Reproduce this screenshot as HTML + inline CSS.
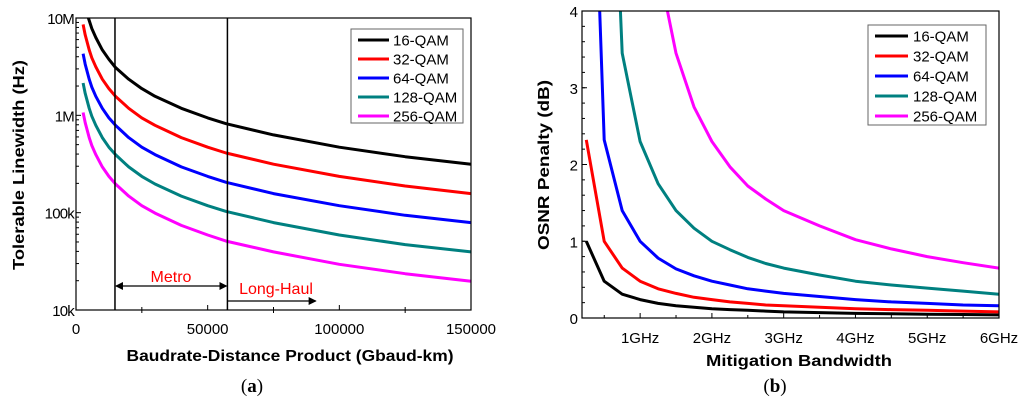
<!DOCTYPE html>
<html><head><meta charset="utf-8">
<style>
html,body{margin:0;padding:0;background:#fff;}
svg{display:block;font-family:"Liberation Sans",Arial,sans-serif;}
</style></head>
<body>
<svg id="fig" width="1024" height="406" viewBox="0 0 1024 406" xmlns="http://www.w3.org/2000/svg">
<defs>
<clipPath id="clipB"><rect x="582" y="11" width="417" height="307"/></clipPath>
<marker id="arr" markerWidth="8" markerHeight="8" refX="7" refY="4" orient="auto" markerUnits="userSpaceOnUse"><path d="M0,0 L8,4 L0,8 Z" fill="#000"/></marker>
<marker id="arrS" markerWidth="8" markerHeight="8" refX="1" refY="4" orient="auto" markerUnits="userSpaceOnUse"><path d="M8,0 L0,4 L8,8 Z" fill="#000"/></marker>
</defs>
<g id="chartA"></g>
<g id="chartB"></g>
</svg>
<script>
// ---- Chart (a) data ----
const seriesNames = ["16-QAM","32-QAM","64-QAM","128-QAM","256-QAM"];
const seriesColors = ["#000000","#ff0000","#0000ff","#008080","#ff00ff"];
const aX16 = [4700,6000,7500,10000,12500,15000,20000,25000,30000,40000,50000,57000,75000,100000,125000,150000];
const aY16 = [10000000,7800000,6300000,4700000,3760000,3100000,2350000,1880000,1570000,1180000,940000,820000,630000,470000,376000,315000];
const aX = [2700,3500,5000,6000,7500,10000,12500,15000,20000,25000,30000,40000,50000,57000,75000,100000,125000,150000];
const aY32 = [8600000,6700000,4700000,3900000,3150000,2350000,1880000,1570000,1180000,940000,790000,590000,470000,410000,315000,236000,188000,157000];
const aY64 = [4300000,3350000,2350000,1950000,1570000,1180000,940000,790000,590000,470000,395000,295000,236000,205000,157000,118000,94000,79000];
const aY128 = [2150000,1680000,1180000,980000,790000,590000,470000,395000,295000,236000,197000,148000,118000,103000,79000,59000,47000,39500];
const aY256 = [1070000,840000,590000,490000,395000,295000,236000,197000,148000,118000,99000,74000,59000,51000,39500,29500,23600,19700];
const aXTicks = [0,50000,100000,150000];
const aYTicks = [10000,100000,1000000,10000000];
const aYTickLabels = ["10k","100k","1M","10M"];
const regionBounds = [14800,57500];

// ---- Chart (b) data ----
const bX = [0.25,0.5,0.75,1,1.25,1.5,1.75,2,2.25,2.5,2.75,3,3.5,4,4.5,5,5.5,6];
const bY16 = [1.0,0.48,0.31,0.24,0.19,0.16,0.14,0.12,0.11,0.10,0.09,0.08,0.07,0.06,0.055,0.05,0.045,0.04];
const bY32 = [2.32,1.0,0.65,0.48,0.38,0.32,0.27,0.24,0.21,0.19,0.17,0.16,0.14,0.12,0.11,0.10,0.09,0.08];
const bY64 = [9,2.32,1.4,1.0,0.78,0.64,0.55,0.48,0.43,0.38,0.35,0.32,0.28,0.24,0.21,0.19,0.17,0.16];
const bY128 = [18,9,3.45,2.3,1.75,1.4,1.17,1.0,0.89,0.79,0.71,0.65,0.56,0.48,0.43,0.39,0.35,0.31];
const bY256 = [36,18,9,6,4.6,3.45,2.75,2.3,1.97,1.72,1.55,1.4,1.2,1.02,0.9,0.8,0.72,0.65];
const bXTicks = [1,2,3,4,5,6];
const bXTickLabels = ["1GHz","2GHz","3GHz","4GHz","5GHz","6GHz"];
const bYTicks = [0,1,2,3,4];

const NS = "http://www.w3.org/2000/svg";
function mk(parent, tag, attrs, text){
  const e = document.createElementNS(NS, tag);
  for (const k in attrs) e.setAttribute(k, attrs[k]);
  if (text !== undefined) e.textContent = text;
  parent.appendChild(e);
  return e;
}

// ===== Chart A =====
(function(){
  const g = document.getElementById('chartA');
  const L=76,R=471,T=18,B=310;
  const xs = v => L + (v-0)/(150000-0)*(R-L);
  const ys = v => B - (Math.log10(v)-4)/3*(B-T);
  const aSeries = [[aX16,aY16],[aX,aY32],[aX,aY64],[aX,aY128],[aX,aY256]];
  aSeries.forEach((s,i)=>{
    const d = s[0].map((x,j)=>(j?'L':'M')+xs(x).toFixed(1)+','+ys(s[1][j]).toFixed(1)).join(' ');
    const p = mk(g,'path',{d:d,fill:'none',stroke:seriesColors[i],'stroke-width':3,'stroke-linejoin':'round'});
    
    
  });
  const f = mk(g,'rect',{x:L,y:T,width:R-L,height:B-T,fill:'none',stroke:'#000','stroke-width':1.2});
  
  
  regionBounds.forEach((v,i)=>{
    const l = mk(g,'line',{x1:xs(v),x2:xs(v),y1:T,y2:B,stroke:'#000','stroke-width':1.5});
    
    
  });
  const ma = mk(g,'line',{x1:xs(regionBounds[0])+1,x2:xs(regionBounds[1])-1,y1:286,y2:286,stroke:'#000','stroke-width':1.3,'marker-end':'url(#arr)','marker-start':'url(#arrS)'});
  
  
  const la = mk(g,'line',{x1:xs(regionBounds[1]),x2:xs(91000),y1:301,y2:301,stroke:'#000','stroke-width':1.3,'marker-end':'url(#arr)'});
  
  
  const mt = mk(g,'text',{x:171,y:282,'font-size':16,fill:'#ff0000','text-anchor':'middle'},'Metro');
  
  
  const lt = mk(g,'text',{x:276,y:294,'font-size':16,fill:'#ff0000','text-anchor':'middle'},'Long-Haul');
  
  
  aXTicks.forEach(v=>{
    mk(g,'line',{x1:xs(v),x2:xs(v),y1:B,y2:B-5,stroke:'#000','stroke-width':1});
    const t = mk(g,'text',{x:xs(v),y:334,'font-size':15,'text-anchor':'middle',fill:'#000'},String(v));
    
    
  });
  [25000,75000,125000].forEach(v=>mk(g,'line',{x1:xs(v),x2:xs(v),y1:B-3,y2:B+3,stroke:'#000','stroke-width':1}));
  aYTicks.forEach((v,i)=>{
    mk(g,'line',{x1:L,x2:L+5,y1:ys(v),y2:ys(v),stroke:'#000','stroke-width':1});
    const t = mk(g,'text',{x:L-2,y:ys(v)+6,'font-size':15,'text-anchor':'end',fill:'#000','letter-spacing':'-0.8'},aYTickLabels[i]);
    
    
    if(i<3){ for(let m=2;m<10;m++){ const yy=ys(v*m); mk(g,'line',{x1:L,x2:L+3,y1:yy,y2:yy,stroke:'#000','stroke-width':1}); } }
  });
  const xt = mk(g,'text',{x:290,y:361,'font-size':16,'font-weight':'bold','text-anchor':'middle',textLength:327,lengthAdjust:'spacingAndGlyphs'},'Baudrate-Distance Product (Gbaud-km)');
  
  
  const yt = mk(g,'text',{x:0,y:0,'font-size':16,'font-weight':'bold','text-anchor':'middle',transform:'translate(24,165) rotate(-90)',textLength:210,lengthAdjust:'spacingAndGlyphs'},'Tolerable Linewidth (Hz)');
  
  
  const cap = mk(g,'text',{x:252,y:392,'font-size':19,'text-anchor':'middle','font-family':'Liberation Serif, serif'});
  
  
  cap.innerHTML = '(<tspan font-weight="bold">a</tspan>)';
  const lg = mk(g,'g',{});
  
  
  mk(lg,'rect',{x:351,y:29,width:112,height:94,fill:'#fff',stroke:'#666','stroke-width':1});
  seriesNames.forEach((n,i)=>{
    const y = 40 + i*19;
    const e = mk(lg,'g',{});
    
    
    mk(e,'line',{x1:358,x2:389,y1:y,y2:y,stroke:seriesColors[i],'stroke-width':3});
    mk(e,'text',{x:393,y:y+5.5,'font-size':15},n);
  });
})();

// ===== Chart B =====
(function(){
  const g = document.getElementById('chartB');
  const L=582,R=999,T=11,B=318;
  const xmin=0.19,xmax=6;
  const xs = v => L + (v-xmin)/(xmax-xmin)*(R-L);
  const ys = v => B - v/4*(B-T);
  const cg = mk(g,'g',{'clip-path':'url(#clipB)'});
  [bY16,bY32,bY64,bY128,bY256].forEach((s,i)=>{
    const d = bX.map((x,j)=>(j?'L':'M')+xs(x).toFixed(1)+','+ys(s[j]).toFixed(1)).join(' ');
    const p = mk(cg,'path',{d:d,fill:'none',stroke:seriesColors[i],'stroke-width':3,'stroke-linejoin':'round'});
    
    
  });
  const f = mk(g,'rect',{x:L,y:T,width:R-L,height:B-T,fill:'none',stroke:'#000','stroke-width':1.2});
  
  
  bXTicks.forEach((v,i)=>{
    mk(g,'line',{x1:xs(v),x2:xs(v),y1:B,y2:B-5,stroke:'#000','stroke-width':1});
    mk(g,'line',{x1:xs(v-0.5),x2:xs(v-0.5),y1:B,y2:B-3,stroke:'#000','stroke-width':1});
    const t = mk(g,'text',{x:xs(v),y:343,'font-size':15,'text-anchor':'middle'},bXTickLabels[i]);
    
    
  });
  bYTicks.forEach(v=>{
    mk(g,'line',{x1:L,x2:L+5,y1:ys(v),y2:ys(v),stroke:'#000','stroke-width':1});
    const t = mk(g,'text',{x:L-4,y:ys(v)+6,'font-size':15,'text-anchor':'end'},String(v));
    
    
  });
  for(let v=0.2;v<4;v+=0.2){ mk(g,'line',{x1:L,x2:L+3,y1:ys(v),y2:ys(v),stroke:'#000','stroke-width':1}); }
  const xt = mk(g,'text',{x:799,y:366,'font-size':16,'font-weight':'bold','text-anchor':'middle',textLength:186,lengthAdjust:'spacingAndGlyphs'},'Mitigation Bandwidth');
  
  
  const yt = mk(g,'text',{x:0,y:0,'font-size':16,'font-weight':'bold','text-anchor':'middle',transform:'translate(549,165) rotate(-90)',textLength:170,lengthAdjust:'spacingAndGlyphs'},'OSNR Penalty (dB)');
  
  
  const cap = mk(g,'text',{x:775,y:392,'font-size':19,'text-anchor':'middle','font-family':'Liberation Serif, serif'});
  
  
  cap.innerHTML = '(<tspan font-weight="bold">b</tspan>)';
  const lg = mk(g,'g',{});
  
  
  mk(lg,'rect',{x:868,y:25,width:118,height:100,fill:'#fff',stroke:'#666','stroke-width':1});
  seriesNames.forEach((n,i)=>{
    const y = 36 + i*20;
    const e = mk(lg,'g',{});
    
    
    mk(e,'line',{x1:875,x2:908,y1:y,y2:y,stroke:seriesColors[i],'stroke-width':3});
    mk(e,'text',{x:913,y:y+5.5,'font-size':15},n);
  });
})();
</script>
</body></html>
